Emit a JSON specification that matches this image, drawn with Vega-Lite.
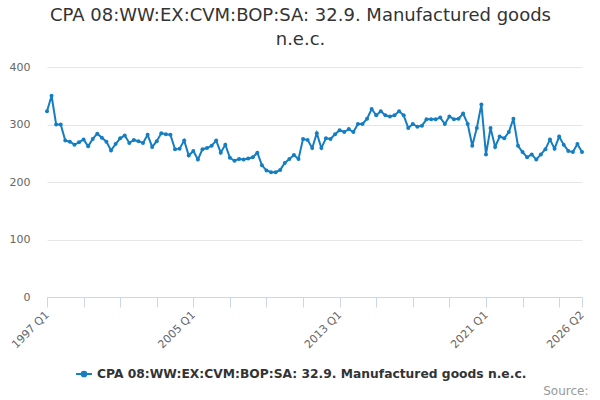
{
  "$schema": "https://vega.github.io/schema/vega-lite/v6.json",
  "description": "CPA 08 exports, manufactured goods n.e.c., quarterly chained volume measure.",
  "width": 535,
  "height": 230,
  "autosize": {"type": "none"},
  "padding": {"left": 47, "top": 67, "right": 18, "bottom": 103},
  "background": "white",
  "config": {"view": {"stroke": null}},
  "title": {
    "text": ["CPA 08:WW:EX:CVM:BOP:SA: 32.9. Manufactured goods", "n.e.c."],
    "font": "DejaVu Sans",
    "fontSize": 18,
    "fontWeight": "normal",
    "color": "#333333",
    "anchor": "middle",
    "lineHeight": 24,
    "offset": 12,
    "dx": -14
  },
  "data": {
    "values": [
      {"quarter": "1997 Q1", "value": 323}, {"quarter": "1997 Q2", "value": 350}, {"quarter": "1997 Q3", "value": 300}, {"quarter": "1997 Q4", "value": 300},
      {"quarter": "1998 Q1", "value": 272}, {"quarter": "1998 Q2", "value": 270}, {"quarter": "1998 Q3", "value": 265}, {"quarter": "1998 Q4", "value": 269},
      {"quarter": "1999 Q1", "value": 274}, {"quarter": "1999 Q2", "value": 262}, {"quarter": "1999 Q3", "value": 275}, {"quarter": "1999 Q4", "value": 284},
      {"quarter": "2000 Q1", "value": 277}, {"quarter": "2000 Q2", "value": 270}, {"quarter": "2000 Q3", "value": 255}, {"quarter": "2000 Q4", "value": 266},
      {"quarter": "2001 Q1", "value": 276}, {"quarter": "2001 Q2", "value": 281}, {"quarter": "2001 Q3", "value": 268}, {"quarter": "2001 Q4", "value": 273},
      {"quarter": "2002 Q1", "value": 271}, {"quarter": "2002 Q2", "value": 268}, {"quarter": "2002 Q3", "value": 282}, {"quarter": "2002 Q4", "value": 261},
      {"quarter": "2003 Q1", "value": 271}, {"quarter": "2003 Q2", "value": 285}, {"quarter": "2003 Q3", "value": 283}, {"quarter": "2003 Q4", "value": 282},
      {"quarter": "2004 Q1", "value": 257}, {"quarter": "2004 Q2", "value": 258}, {"quarter": "2004 Q3", "value": 272}, {"quarter": "2004 Q4", "value": 246},
      {"quarter": "2005 Q1", "value": 254}, {"quarter": "2005 Q2", "value": 239}, {"quarter": "2005 Q3", "value": 257}, {"quarter": "2005 Q4", "value": 259},
      {"quarter": "2006 Q1", "value": 263}, {"quarter": "2006 Q2", "value": 272}, {"quarter": "2006 Q3", "value": 251}, {"quarter": "2006 Q4", "value": 265},
      {"quarter": "2007 Q1", "value": 242}, {"quarter": "2007 Q2", "value": 237}, {"quarter": "2007 Q3", "value": 240}, {"quarter": "2007 Q4", "value": 239},
      {"quarter": "2008 Q1", "value": 241}, {"quarter": "2008 Q2", "value": 243}, {"quarter": "2008 Q3", "value": 251}, {"quarter": "2008 Q4", "value": 229},
      {"quarter": "2009 Q1", "value": 220}, {"quarter": "2009 Q2", "value": 217}, {"quarter": "2009 Q3", "value": 217}, {"quarter": "2009 Q4", "value": 221},
      {"quarter": "2010 Q1", "value": 233}, {"quarter": "2010 Q2", "value": 240}, {"quarter": "2010 Q3", "value": 247}, {"quarter": "2010 Q4", "value": 240},
      {"quarter": "2011 Q1", "value": 275}, {"quarter": "2011 Q2", "value": 273}, {"quarter": "2011 Q3", "value": 259}, {"quarter": "2011 Q4", "value": 285},
      {"quarter": "2012 Q1", "value": 259}, {"quarter": "2012 Q2", "value": 276}, {"quarter": "2012 Q3", "value": 275}, {"quarter": "2012 Q4", "value": 283},
      {"quarter": "2013 Q1", "value": 290}, {"quarter": "2013 Q2", "value": 287}, {"quarter": "2013 Q3", "value": 292}, {"quarter": "2013 Q4", "value": 287},
      {"quarter": "2014 Q1", "value": 301}, {"quarter": "2014 Q2", "value": 301}, {"quarter": "2014 Q3", "value": 310}, {"quarter": "2014 Q4", "value": 327},
      {"quarter": "2015 Q1", "value": 316}, {"quarter": "2015 Q2", "value": 323}, {"quarter": "2015 Q3", "value": 316}, {"quarter": "2015 Q4", "value": 314},
      {"quarter": "2016 Q1", "value": 316}, {"quarter": "2016 Q2", "value": 323}, {"quarter": "2016 Q3", "value": 316}, {"quarter": "2016 Q4", "value": 294},
      {"quarter": "2017 Q1", "value": 301}, {"quarter": "2017 Q2", "value": 296}, {"quarter": "2017 Q3", "value": 298}, {"quarter": "2017 Q4", "value": 309},
      {"quarter": "2018 Q1", "value": 309}, {"quarter": "2018 Q2", "value": 309}, {"quarter": "2018 Q3", "value": 312}, {"quarter": "2018 Q4", "value": 301},
      {"quarter": "2019 Q1", "value": 314}, {"quarter": "2019 Q2", "value": 309}, {"quarter": "2019 Q3", "value": 310}, {"quarter": "2019 Q4", "value": 319},
      {"quarter": "2020 Q1", "value": 301}, {"quarter": "2020 Q2", "value": 263}, {"quarter": "2020 Q3", "value": 294}, {"quarter": "2020 Q4", "value": 335},
      {"quarter": "2021 Q1", "value": 248}, {"quarter": "2021 Q2", "value": 294}, {"quarter": "2021 Q3", "value": 261}, {"quarter": "2021 Q4", "value": 279},
      {"quarter": "2022 Q1", "value": 276}, {"quarter": "2022 Q2", "value": 287}, {"quarter": "2022 Q3", "value": 310}, {"quarter": "2022 Q4", "value": 263},
      {"quarter": "2023 Q1", "value": 252}, {"quarter": "2023 Q2", "value": 243}, {"quarter": "2023 Q3", "value": 248}, {"quarter": "2023 Q4", "value": 239},
      {"quarter": "2024 Q1", "value": 248}, {"quarter": "2024 Q2", "value": 257}, {"quarter": "2024 Q3", "value": 274}, {"quarter": "2024 Q4", "value": 258},
      {"quarter": "2025 Q1", "value": 279}, {"quarter": "2025 Q2", "value": 265}, {"quarter": "2025 Q3", "value": 254}, {"quarter": "2025 Q4", "value": 252},
      {"quarter": "2026 Q1", "value": 266}, {"quarter": "2026 Q2", "value": 252}
    ]
  },
  "mark": {"type": "line", "strokeWidth": 2, "point": {"size": 16, "filled": true}},
  "encoding": {
    "x": {
      "field": "quarter",
      "type": "ordinal",
      "sort": null,
      "scale": {"type": "point", "padding": 0},
      "axis": {
        "values": ["1997 Q1", "1999 Q1", "2001 Q1", "2003 Q1", "2005 Q1", "2007 Q1", "2009 Q1", "2011 Q1", "2013 Q1", "2015 Q1", "2017 Q1", "2019 Q1", "2021 Q1", "2023 Q1", "2025 Q1", "2026 Q2"],
        "labelExpr": "indexof(['1997 Q1','2005 Q1','2013 Q1','2021 Q1','2026 Q2'], datum.value) >= 0 ? datum.value : ''",
        "labelOverlap": false,
        "labelAngle": -45,
        "labelAlign": "right",
        "labelBaseline": "middle",
        "labelPadding": 6,
        "labelDy": 4,
        "labelFont": "DejaVu Sans",
        "labelFontSize": 11,
        "labelColor": "#666666",
        "tickColor": "#ccd6eb",
        "tickSize": 10,
        "domainColor": "#ccd6eb",
        "grid": false,
        "title": "Source:",
        "titleFont": "DejaVu Sans",
        "titleFontSize": 12,
        "titleFontWeight": "normal",
        "titleColor": "#999999",
        "titleAlign": "right",
        "titleAnchor": "end",
        "titleBaseline": "alphabetic",
        "titleX": 541,
        "titleY": 97
      }
    },
    "y": {
      "field": "value",
      "type": "quantitative",
      "scale": {"domain": [0, 400]},
      "axis": {
        "values": [0, 100, 200, 300, 400],
        "title": null,
        "domain": false,
        "ticks": false,
        "gridColor": "#e6e6e6",
        "labelPadding": 17,
        "labelFont": "DejaVu Sans",
        "labelFontSize": 11,
        "labelColor": "#666666"
      }
    },
    "color": {
      "datum": "CPA 08:WW:EX:CVM:BOP:SA: 32.9. Manufactured goods n.e.c.",
      "type": "nominal",
      "scale": {"range": ["#157ec3"]},
      "legend": {
        "title": null,
        "orient": "none",
        "legendX": 28,
        "legendY": 298,
        "symbolType": "M-1,0L1,0M0.3,0A0.3,0.3,0,1,1,-0.3,0A0.3,0.3,0,1,1,0.3,0",
        "symbolSize": 250,
        "symbolStrokeWidth": 2,
        "labelFont": "DejaVu Sans",
        "labelFontSize": 12.3,
        "labelFontWeight": "bold",
        "labelColor": "#333333",
        "labelLimit": 600
      }
    }
  }
}
